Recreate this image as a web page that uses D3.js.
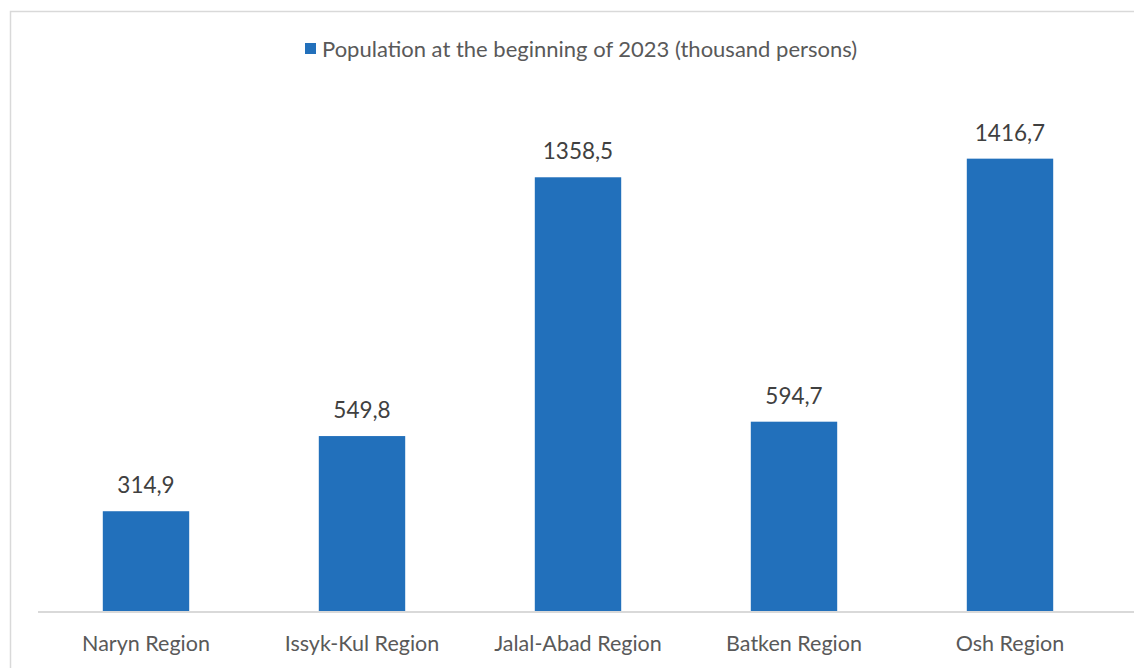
<!DOCTYPE html>
<html><head><meta charset="utf-8">
<script src="https://cdn.jsdelivr.net/npm/d3@7"></script>
<style>body{margin:0;background:#fff;}svg{display:block;}</style>
</head><body>
<script>
const categories = ["Naryn Region","Issyk-Kul Region","Jalal-Abad Region","Batken Region","Osh Region"];
const values = [314.9, 549.8, 1358.5, 594.7, 1416.7];
const seriesName = "Population at the beginning of 2023 (thousand persons)";

const W = 1134, H = 668;
const font = "Lato, 'Open Sans', sans-serif";
const svg = d3.select("body").append("svg").attr("width", W).attr("height", H);

svg.append("rect").attr("x", 10.5).attr("y", 11.5).attr("width", 1140).attr("height", 700)
  .attr("fill", "#fff").attr("stroke", "#d9d9d9").attr("stroke-width", 1.5);

const x = d3.scaleBand().domain(categories).range([38, 1118]).paddingInner(0.6).paddingOuter(0.3);
const y = d3.scaleLinear().domain([0, 1600]).range([612, 100]);

svg.selectAll("rect.bar").data(values).enter().append("rect").attr("class","bar")
  .attr("x", (d,i) => x(categories[i]))
  .attr("width", x.bandwidth())
  .attr("y", d => y(d))
  .attr("height", d => y(0) - y(d))
  .attr("fill", "#2270bb");

const xAxis = svg.append("g").attr("transform", `translate(0,${y(0)})`)
  .call(d3.axisBottom(x).tickSize(0).tickPadding(22));
xAxis.select(".domain").attr("stroke", "#d9d9d9").attr("stroke-width", 2)
  .attr("d", "M38,0H1134");
xAxis.selectAll("text").attr("font-family", font).attr("font-size", 21.5).attr("fill", "#595959")
  .attr("dy", "0.8em");

svg.selectAll("text.val").data(values).enter().append("text").attr("class","val")
  .attr("x", (d,i) => x(categories[i]) + x.bandwidth()/2)
  .attr("y", d => y(d) - 18)
  .attr("text-anchor", "middle")
  .attr("font-family", font).attr("font-size", 22.5).attr("fill", "#404040")
  .text(d => d.toFixed(1).replace(".", ","));

const lg = svg.append("g");
lg.append("rect").attr("x", 305).attr("y", 43).attr("width", 11).attr("height", 11).attr("fill", "#2270bb");
lg.append("text").attr("x", 322).attr("y", 57).attr("font-family", font).attr("font-size", 22)
  .attr("fill", "#595959").text(seriesName);
</script>
</body></html>
